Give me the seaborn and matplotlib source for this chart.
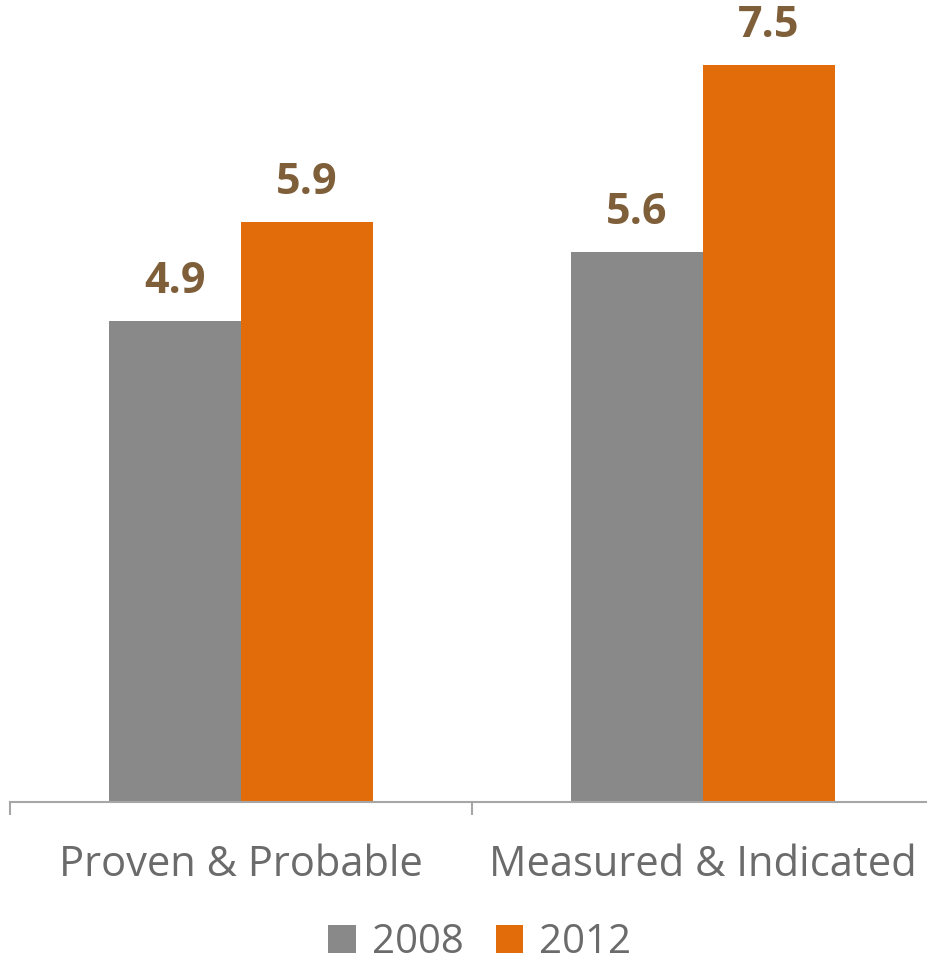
import matplotlib
matplotlib.use("Agg")
import matplotlib.pyplot as plt
import seaborn as sns
import pandas as pd
from matplotlib.patches import Patch

categories = ["Proven & Probable", "Measured & Indicated"]
years = ["2008", "2012"]
values_2008 = [4.9, 5.6]
values_2012 = [5.9, 7.5]

colors = {"2008": "#898989", "2012": "#E36C0A"}
label_color = "#7F5F3A"
text_color = "#6B6B6B"
axis_color = "#A6A6A6"

df = pd.DataFrame({
    "category": categories * 2,
    "year": [years[0]] * len(categories) + [years[1]] * len(categories),
    "value": values_2008 + values_2012,
})

sns.set_theme(style="white")
plt.rcParams["font.family"] = ["Open Sans", "DejaVu Sans"]

W, H = 927, 964
fig = plt.figure(figsize=(W / 100, H / 100), dpi=100)
ax = fig.add_axes([10 / W, (H - 802) / H, 924 / W, 786 / H])

sns.barplot(data=df, x="category", y="value", hue="year", order=categories,
            hue_order=years, palette=colors, width=0.572, saturation=1,
            ax=ax, legend=False, linewidth=0)

ax.set_xlim(-0.5, 1.5)
ax.set_ylim(0, 8)

for container in ax.containers:
    ax.bar_label(container, fmt="%.1f", padding=13, color=label_color,
                 fontsize=31, fontweight="bold")

for side in ["top", "right", "left"]:
    ax.spines[side].set_visible(False)
ax.spines["bottom"].set_color(axis_color)
ax.spines["bottom"].set_linewidth(1.5)
ax.set_yticks([])
ax.set_xlabel("")
ax.set_ylabel("")
ax.set_xticks([0, 1])
ax.set_xticklabels(categories, fontsize=30, color=text_color)
ax.tick_params(axis="x", which="major", length=0, pad=30)
ax.set_xticks([-0.5, 0.5, 1.5], minor=True)
ax.tick_params(axis="x", which="minor", bottom=True, length=9.5, width=1.5,
               color=axis_color)

handles = [Patch(facecolor=colors[y], edgecolor="none") for y in years]
fig.legend(handles, years, loc="center", bbox_to_anchor=(480 / W, 1 - 943 / H),
           ncol=2, frameon=False, fontsize=29, labelcolor=text_color,
           handlelength=0.68, handleheight=0.68, handletextpad=0.4,
           columnspacing=0.8, borderpad=0)

fig.savefig("out.png", dpi=100)
